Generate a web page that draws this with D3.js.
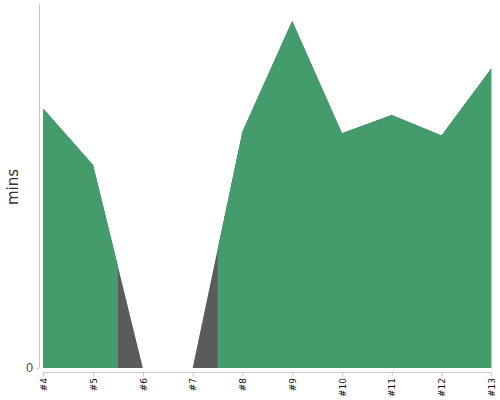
<!DOCTYPE html>
<html><head><meta charset="utf-8">
<script src="https://cdn.jsdelivr.net/npm/d3@7"></script>
<style>body{margin:0;background:#fff;font-family:"DejaVu Sans",sans-serif}</style>
</head><body><svg id="c" width="500" height="400"></svg>
<script>
const categories = ["#4","#5","#6","#7","#8","#9","#10","#11","#12","#13"];
const minutes = [71.2, 55.8, 0, 0, 64.9, 95.3, 64.5, 69.5, 63.9, 82.3];
// index ranges (in category units) drawn in the dark colour
const grayRanges = [[5.5, 7.5]];
const yTicks = [0];

const svg = d3.select("#c");
const x = d3.scaleLinear().domain([4, 13]).range([43.3, 491.3]);
const y = d3.scaleLinear().domain([0, 100]).range([368, 4]);
const data = categories.map((c, i) => ({c, i: +c.slice(1), v: minutes[i]}));

const area = d3.area().x(d => x(d.i)).y0(y(0)).y1(d => y(d.v));

// dark underlay
svg.append("path").datum(data).attr("d", area).attr("fill", "#5b5b5b");

// clip for green: everything except gray ranges
const defs = svg.append("defs");
const cp = defs.append("clipPath").attr("id", "gclip");
let segs = [];
let start = 4;
grayRanges.forEach(([a, b]) => { segs.push([start, a]); start = b; });
segs.push([start, 13]);
cp.selectAll("rect").data(segs).join("rect")
  .attr("x", d => x(d[0])).attr("width", d => x(d[1]) - x(d[0]))
  .attr("y", 0).attr("height", 400);
svg.append("path").datum(data).attr("d", area).attr("fill", "#449c6c")
  .attr("clip-path", "url(#gclip)");

// y axis
const yAxis = svg.append("g").attr("transform", "translate(39.5,0)")
  .call(d3.axisLeft(y).tickValues(yTicks).tickSize(3).tickFormat(d3.format("d")));
yAxis.select(".domain").attr("stroke", "#c8c8c8").attr("d", `M0,${y(100)}V${y(0)}`);
yAxis.selectAll(".tick line").attr("stroke", "#c8c8c8");
yAxis.selectAll(".tick text").attr("fill", "#555").attr("font-size", 12)
  .attr("font-family", "DejaVu Sans, sans-serif").attr("x", -6);

// x axis
const xAxis = svg.append("g").attr("transform", "translate(0,372.5)")
  .call(d3.axisBottom(x).tickValues(data.map(d => d.i)).tickSize(4)
    .tickFormat((d, i) => categories[i]));
xAxis.select(".domain").attr("stroke", "#c8c8c8").attr("d", `M${x(4)},0H${x(13)}`);
xAxis.selectAll(".tick line").attr("stroke", "#c8c8c8");
xAxis.selectAll(".tick text")
  .attr("font-size", 9).attr("font-family", "DejaVu Sans, sans-serif").attr("fill", "#111")
  .attr("text-anchor", "end").attr("dy", null)
  .attr("transform", "rotate(-90)").attr("x", -5.5).attr("y", 3.2);

// y label
svg.append("text").attr("transform", "translate(18,187) rotate(-90)")
  .attr("text-anchor", "middle").attr("font-size", 15)
  .attr("font-family", "DejaVu Sans, sans-serif").attr("fill", "#333").text("mins");
</script></body></html>
